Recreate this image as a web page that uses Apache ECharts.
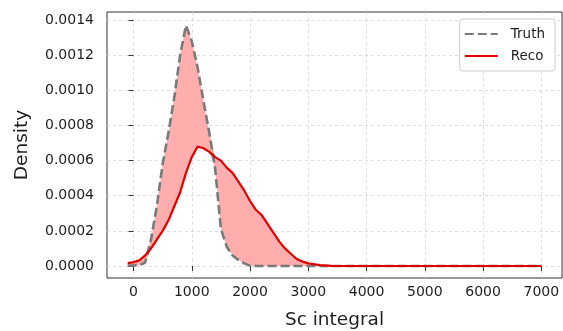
<!DOCTYPE html>
<html>
<head>
<meta charset="utf-8">
<script src="https://cdn.jsdelivr.net/npm/echarts@6/dist/echarts.min.js"></script>
<style>
  html, body { margin: 0; padding: 0; background: #fff; }
  #chart { width: 563px; height: 331px; }
</style>
</head>
<body>
<div id="chart"></div>
<script>
// shared x positions (Sc integral)
const xs = [-100, 0, 100, 200, 300, 400, 500, 600, 700, 800, 900, 1000, 1100, 1200, 1300,
  1400, 1500, 1600, 1700, 1800, 1900, 2000, 2100, 2200, 2300, 2400, 2500, 2600, 2700,
  2800, 2900, 3000, 3200, 3400, 7000];

// density
const truth = [0.000002, 0.000003, 0.000004, 0.00002, 0.00015, 0.00034, 0.00058, 0.00076,
  0.00096, 0.0012, 0.00137, 0.00128, 0.00113, 0.00094, 0.00076, 0.00056, 0.00021, 0.00011,
  0.00006, 0.000035, 0.000015, 0.000002, 0, 0, 0, 0, 0, 0, 0, 0, 0, 0, 0, 0, 0];
const reco = [0.000016, 0.000022, 0.000032, 0.00006, 0.0001, 0.00015, 0.0002, 0.00026,
  0.00034, 0.00042, 0.00053, 0.00062, 0.00068, 0.00067, 0.00065, 0.00062, 0.0006, 0.00056,
  0.00053, 0.00048, 0.00043, 0.00037, 0.00032, 0.00029, 0.00024, 0.00019, 0.00014, 0.0001,
  0.00007, 0.00004, 0.000025, 0.000015, 0.000005, 0.000001, 0];

const xTicks = [0, 1000, 2000, 3000, 4000, 5000, 6000, 7000];
const yTicks = [0, 0.0002, 0.0004, 0.0006, 0.0008, 0.0010, 0.0012, 0.0014];

const chart = echarts.init(document.getElementById('chart'));

const textColor = '#1e1e1e';
const splitStyle = { color: '#d6d6d6', width: 0.8, type: [3, 3] };

// fill between truth and reco, as one polygon in data coords
function renderBand(params, api) {
  const upper = xs.map((x, i) => api.coord([x, Math.max(truth[i], reco[i])]));
  const lower = xs.map((x, i) => api.coord([x, Math.min(truth[i], reco[i])])).reverse();
  return {
    type: 'polygon',
    shape: { points: upper.concat(lower) },
    style: { fill: '#ffadad', stroke: null }
  };
}

const option = {
  animation: false,
  grid: {
    left: 107, right: 1, top: 12, bottom: 53,
    outerBoundsMode: 'none',
    show: true, borderColor: '#333', borderWidth: 1
  },
  legend: {
    orient: 'vertical',
    right: 8, top: 19,
    padding: [8, 10, 8, 4],
    itemGap: 8,
    itemWidth: 33, itemHeight: 12,
    backgroundColor: '#fff',
    borderColor: '#cccccc', borderWidth: 1, borderRadius: 3,
    itemStyle: { opacity: 0 },
    textStyle: { fontFamily: 'DejaVu Sans', fontSize: 13.5, color: textColor, padding: [0, 0, 0, 8] },
    data: ['Truth', 'Reco']
  },
  xAxis: {
    type: 'value',
    min: -455, max: 7355,
    name: 'Sc integral',
    nameLocation: 'middle',
    nameGap: 33,
    nameTextStyle: { fontFamily: 'DejaVu Sans', fontSize: 18.5, color: textColor },
    axisLine: { show: false },
    axisTick: { show: true, length: 5, lineStyle: { color: '#333' }, customValues: xTicks },
    axisLabel: {
      customValues: xTicks, margin: 7,
      fontFamily: 'DejaVu Sans', fontSize: 14, color: textColor,
      formatter: v => String(v)
    },
    splitLine: { show: true, lineStyle: splitStyle }
  },
  yAxis: {
    type: 'value',
    min: -0.0000683, max: 0.001446,
    name: 'Density',
    nameLocation: 'middle',
    nameGap: 75,
    nameTextStyle: { fontFamily: 'DejaVu Sans', fontSize: 18.5, color: textColor },
    axisLine: { show: false },
    axisTick: { show: true, length: 5, lineStyle: { color: '#333' }, customValues: yTicks },
    axisLabel: {
      customValues: yTicks, margin: 13,
      fontFamily: 'DejaVu Sans', fontSize: 14, color: textColor,
      formatter: v => v.toFixed(4)
    },
    splitLine: { show: true, lineStyle: splitStyle }
  },
  series: [
    {
      name: 'band', type: 'custom', renderItem: renderBand,
      data: [[xs[0], 0]], silent: true, z: 1
    },
    {
      name: 'Truth', type: 'line', data: xs.map((x, i) => [x, truth[i]]),
      symbol: 'none', z: 3,
      itemStyle: { color: '#7a7a7a' },
      lineStyle: { color: '#7a7a7a', width: 2.6, type: [9, 4] }
    },
    {
      name: 'Reco', type: 'line', data: xs.map((x, i) => [x, reco[i]]),
      symbol: 'none', z: 4,
      itemStyle: { color: '#e00000' },
      lineStyle: { color: '#e00000', width: 2.2 }
    }
  ]
};

chart.setOption(option);
window.addEventListener('resize', function () {
  chart.resize();
});
</script>
</body>
</html>
